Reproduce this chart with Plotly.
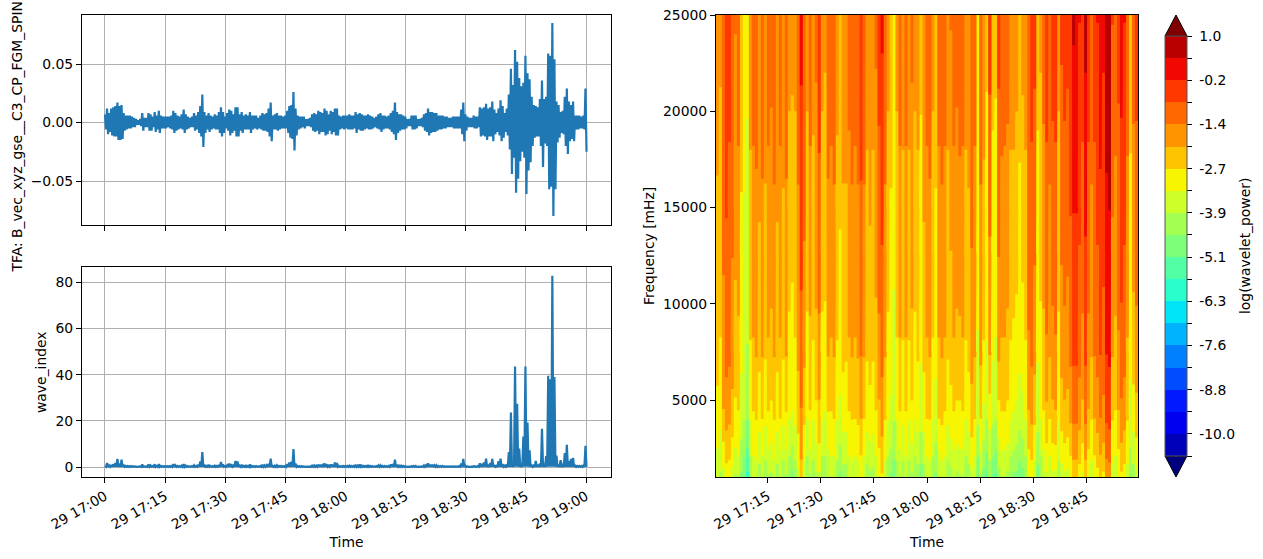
import pandas as pd
import plotly.graph_objects as go

# Magnetic field waveform envelope (upper and lower excursion per sample), nT
b_upper = [
    .007, .012, .008, .012, .013, .014, .017, .014, .015, .008,
    .006, .006, .006, .005, .004, .003, .002, .003, .008, .004,
    .004, .008, .007, .005, .009, .006, .010, .006, .005, .005,
    .005, .005, .006, .010, .008, .006, .005, .007, .011, .007,
    .005, .004, .005, .008, .006, .009, .014, .024, .009, .006,
    .008, .006, .005, .007, .006, .009, .013, .009, .005, .008,
    .011, .010, .007, .013, .013, .007, .009, .006, .007, .006,
    .009, .006, .006, .006, .004, .006, .008, .007, .008, .012,
    .017, .006, .007, .008, .006, .006, .005, .006, .010, .014,
    .015, .026, .012, .006, .005, .005, .005, .003, .003, .004,
    .007, .008, .007, .010, .009, .008, .012, .010, .007, .010,
    .009, .012, .012, .006, .005, .006, .006, .006, .007, .006,
    .006, .009, .007, .008, .007, .006, .006, .007, .006, .005,
    .004, .005, .007, .008, .006, .006, .005, .006, .008, .010,
    .017, .009, .007, .007, .006, .005, .003, .003, .006, .006,
    .006, .003, .003, .004, .007, .008, .012, .009, .009, .008,
    .008, .006, .006, .006, .005, .005, .004, .004, .005, .005,
    .005, .005, .011, .017, .007, .005, .004, .004, .006, .005,
    .005, .013, .012, .013, .016, .012, .013, .018, .011, .008,
    .012, .019, .014, .008, .012, .024, .046, .032, .062, .052,
    .038, .031, .034, .057, .042, .037, .022, .015, .014, .013,
    .020, .036, .020, .022, .059, .057, .085, .054, .018, .015,
    .009, .010, .022, .029, .018, .015, .018, .006, .006, .006,
    .005, .006, .029,
]
b_lower = [
    -.006, -.010, -.008, -.011, -.012, -.012, -.015, -.015, -.014, -.007,
    -.006, -.005, -.005, -.004, -.004, -.002, -.002, -.003, -.007, -.004,
    -.004, -.007, -.007, -.004, -.008, -.006, -.009, -.005, -.005, -.005,
    -.004, -.005, -.006, -.009, -.007, -.006, -.005, -.006, -.009, -.006,
    -.005, -.004, -.004, -.007, -.006, -.009, -.012, -.021, -.009, -.006,
    -.008, -.006, -.005, -.006, -.006, -.009, -.012, -.009, -.005, -.007,
    -.011, -.009, -.007, -.012, -.012, -.007, -.009, -.006, -.006, -.006,
    -.009, -.006, -.005, -.006, -.005, -.006, -.007, -.007, -.008, -.012,
    -.016, -.006, -.006, -.007, -.006, -.005, -.005, -.005, -.009, -.013,
    -.014, -.024, -.011, -.006, -.005, -.004, -.005, -.003, -.003, -.004,
    -.007, -.008, -.007, -.010, -.008, -.008, -.011, -.010, -.007, -.010,
    -.008, -.011, -.011, -.006, -.005, -.006, -.005, -.006, -.006, -.006,
    -.005, -.009, -.006, -.007, -.007, -.006, -.005, -.006, -.006, -.005,
    -.004, -.005, -.006, -.008, -.006, -.005, -.005, -.006, -.008, -.010,
    -.015, -.009, -.007, -.006, -.006, -.005, -.003, -.003, -.006, -.006,
    -.005, -.003, -.003, -.004, -.007, -.008, -.011, -.009, -.008, -.008,
    -.007, -.006, -.006, -.005, -.005, -.004, -.004, -.004, -.005, -.005,
    -.005, -.005, -.010, -.016, -.007, -.004, -.004, -.004, -.005, -.005,
    -.004, -.012, -.011, -.012, -.015, -.012, -.012, -.016, -.010, -.008,
    -.011, -.016, -.013, -.008, -.011, -.023, -.044, -.030, -.060, -.048,
    -.033, -.025, -.030, -.061, -.041, -.034, -.020, -.013, -.012, -.012,
    -.020, -.038, -.018, -.020, -.057, -.055, -.080, -.057, -.017, -.013,
    -.009, -.010, -.020, -.027, -.016, -.014, -.016, -.006, -.006, -.005,
    -.005, -.006, -.025,
]

# Wave index on the same time base as the envelope; it drops back to the floor between samples
wave_floor = 0.1
wave_index = [
    .5, 1.7, .7, .9, 1.2, 1.8, 3.5, 1.5, 3.2, 1.0,
    .5, .5, .4, .4, .3, .2, .2, .3, 1.1, .3,
    .3, 1.1, .7, .4, 1.2, .5, 1.3, .5, .4, .4,
    .4, .4, .5, 1.3, .8, .5, .4, .6, 1.3, .6,
    .4, .3, .4, .8, .5, 1.0, 2.4, 6.5, 1.0, .5,
    1.0, .5, .4, .6, .5, .9, 2.2, 1.2, .4, .8,
    1.5, 1.2, .6, 2.6, 2.4, .6, 1.0, .5, .6, .5,
    1.1, .5, .4, .4, .3, .5, 1.0, .7, .8, 1.4,
    3.6, .5, .6, .8, .5, .5, .4, .5, 1.3, 2.0,
    2.3, 7.8, 1.5, .5, .4, .4, .3, .2, .2, .3,
    .6, .7, .6, 1.0, 1.0, .8, 1.6, 1.2, .6, 1.1,
    1.0, 2.0, 1.7, .5, .4, .5, .5, .5, .6, .5,
    .5, 1.0, .6, 1.1, .6, .5, .5, .6, .5, .4,
    .3, .4, .7, .8, .5, .5, .4, .5, 1.1, 1.3,
    3.2, 1.0, .6, .6, .5, .4, .2, .2, .4, .5,
    .5, .2, .2, .3, .7, .8, 1.6, 1.0, 1.0, .8,
    .8, .5, .4, .5, .3, .3, .3, .3, .3, .3,
    .3, .4, 1.5, 3.5, .6, .3, .2, .2, .4, .3,
    .4, 1.6, 1.4, 2.0, 3.6, .6, 1.8, 3.5, .9, .5,
    2.5, 3.6, 1.2, .6, 1.2, 6.5, 23.6, 1.0, 43.5, 27.4,
    8.0, .8, 13.2, 43.5, 19.3, 7.2, 1.0, .6, 2.7, 1.0,
    1.5, 16.6, 1.5, 4.8, 39.5, 38.0, 82.8, 39.0, 5.0, 1.0,
    3.0, .8, 6.0, 9.6, 2.5, 3.5, 4.0, .6, .5, .5,
    .5, .6, 9.2,
]

# Wavelet spectrum: log power per time column, one list per frequency row, lowest row first
frequencies = [400, 2000, 4200, 7500, 15000, 25000]
power_row_a = [
    -4.0, -4.2, -3.8, -3.4, -3.5, -3.9, -4.3, -4.2, -4.9, -5.2,
    -6.2, -4.8, -4.2, -4.1, -4.6, -4.2, -4.6, -4.3, -4.3, -4.1,
    -4.6, -4.2, -4.6, -4.3, -4.9, -5.1, -4.7, -3.8, -2.9, -4.0,
    -4.7, -4.3, -4.6, -4.3, -3.7, -4.8, -4.8, -4.2, -4.2, -4.2,
    -4.6, -5.0, -4.5, -4.6, -4.2, -4.0, -4.2, -4.0, -3.5, -4.2,
    -4.6, -4.4, -4.5, -4.2, -3.6, -3.0, -4.1, -4.8, -5.0, -5.4,
    -4.6, -4.2, -4.6, -4.2, -4.7, -4.3, -4.8, -4.6, -5.3, -4.5,
    -4.1, -4.0, -4.8, -4.9, -4.2, -4.1, -4.2, -4.6, -4.5, -4.2,
    -4.4, -4.3, -4.2, -4.8, -4.6, -3.8, -4.1, -5.3, -4.3, -5.1,
    -5.5, -4.8, -5.4, -5.6, -4.5, -4.2, -4.2, -4.4, -4.8, -5.0,
    -5.0, -5.2, -5.1, -4.8, -3.6, -3.4, -4.1, -5.1, -4.7, -4.2,
    -3.7, -4.2, -3.8, -3.8, -4.6, -4.0, -3.7, -3.8, -3.4, -2.8,
    -2.9, -3.3, -3.7, -2.8, -3.6, -4.1, -3.5, -3.2, -2.9, -3.1,
    -2.3, -2.2, -3.9, -4.2, -3.6, -3.1, -3.3, -4.0, -4.9, -4.6, -3.8,
]
power_row_b = [
    -3.4, -3.6, -3.0, -2.5, -2.6, -3.0, -3.4, -3.3, -4.1, -4.5,
    -5.3, -3.9, -3.3, -3.2, -3.7, -3.3, -3.8, -3.4, -3.5, -3.2,
    -3.7, -3.4, -3.8, -3.4, -3.9, -4.1, -3.8, -3.0, -2.0, -3.2,
    -3.9, -3.4, -3.8, -3.5, -2.9, -3.9, -3.9, -3.4, -3.3, -3.3,
    -3.8, -4.1, -3.7, -3.7, -3.3, -3.2, -3.3, -3.2, -2.7, -3.3,
    -3.7, -3.5, -3.6, -3.3, -2.8, -2.3, -3.2, -3.9, -4.0, -4.4,
    -3.8, -3.4, -3.8, -3.3, -3.8, -3.5, -3.9, -3.7, -4.3, -3.7,
    -3.3, -3.2, -3.9, -4.1, -3.4, -3.2, -3.3, -3.8, -3.6, -3.4,
    -3.5, -3.4, -3.4, -3.9, -3.7, -3.0, -3.3, -4.5, -3.4, -4.2,
    -4.6, -3.8, -4.5, -4.6, -3.6, -3.4, -3.4, -3.5, -3.9, -4.0,
    -4.1, -4.4, -4.2, -3.9, -2.8, -2.6, -3.2, -4.3, -3.9, -3.4,
    -2.9, -3.3, -2.9, -2.9, -3.8, -3.1, -2.9, -3.0, -2.7, -2.0,
    -2.0, -2.5, -2.9, -2.0, -2.8, -3.2, -2.7, -2.4, -2.1, -2.3,
    -1.4, -1.3, -3.1, -3.3, -2.8, -2.3, -2.5, -3.1, -4.0, -3.7, -3.0,
]
power_row_c = [
    -2.8, -3.1, -2.1, -1.8, -1.9, -2.3, -2.8, -2.7, -3.6, -3.8,
    -4.4, -3.2, -2.7, -2.6, -3.0, -2.6, -3.1, -2.7, -2.8, -2.6,
    -3.0, -2.6, -3.1, -2.7, -3.2, -3.3, -3.1, -2.4, -1.5, -2.5,
    -3.2, -2.7, -3.2, -2.8, -2.2, -3.2, -3.3, -2.7, -2.7, -2.6,
    -3.2, -3.4, -3.0, -3.0, -2.7, -2.6, -2.6, -2.5, -2.0, -2.6,
    -3.0, -2.9, -3.0, -2.7, -2.2, -1.8, -2.6, -3.2, -3.4, -3.8,
    -3.2, -2.7, -3.1, -2.7, -3.2, -2.8, -3.2, -3.0, -3.6, -3.0,
    -2.6, -2.6, -3.2, -3.5, -2.6, -2.5, -2.7, -3.1, -2.9, -2.7,
    -2.8, -2.8, -2.7, -3.2, -3.0, -2.3, -2.6, -3.7, -2.6, -3.4,
    -3.8, -3.0, -3.7, -3.8, -2.9, -2.7, -2.7, -2.8, -3.2, -3.3,
    -3.4, -3.6, -3.5, -3.2, -2.1, -1.9, -2.5, -3.6, -3.2, -2.7,
    -2.2, -2.6, -2.2, -2.1, -3.2, -2.4, -2.2, -2.3, -1.9, -1.3,
    -1.3, -1.8, -2.2, -1.3, -2.1, -2.6, -2.0, -1.8, -1.4, -1.6,
    -.7, -.6, -2.6, -2.7, -2.1, -1.6, -1.8, -2.6, -3.5, -3.0, -2.3,
]
power_row_d = [
    -2.5, -2.7, -1.6, -1.2, -1.3, -1.7, -2.3, -2.2, -3.1, -3.5,
    -3.9, -2.7, -2.1, -2.0, -2.5, -2.0, -2.6, -2.1, -2.2, -2.0,
    -2.5, -2.1, -2.6, -2.0, -2.8, -2.9, -2.7, -1.9, -1.0, -1.9,
    -2.8, -2.2, -2.7, -2.2, -1.6, -2.8, -2.8, -2.0, -2.1, -2.0,
    -2.7, -3.0, -2.5, -2.6, -2.1, -2.0, -2.1, -2.0, -1.4, -2.0,
    -2.6, -2.4, -2.6, -2.2, -1.6, -1.2, -2.0, -2.8, -3.0, -3.4,
    -2.7, -2.1, -2.7, -2.1, -2.7, -2.2, -2.8, -2.6, -3.2, -2.5,
    -2.1, -2.0, -2.7, -3.1, -2.1, -2.0, -2.1, -2.6, -2.4, -2.1,
    -2.2, -2.2, -2.1, -2.7, -2.5, -1.8, -2.0, -3.3, -1.9, -2.7,
    -3.3, -2.0, -3.2, -3.3, -1.9, -2.1, -2.1, -2.2, -2.7, -2.8,
    -2.9, -3.1, -2.9, -2.7, -1.5, -1.3, -1.8, -3.2, -2.8, -2.2,
    -1.5, -2.0, -1.6, -1.5, -2.8, -1.8, -1.6, -1.7, -1.3, -.7,
    -.7, -1.2, -1.6, -.7, -1.6, -2.0, -1.4, -1.2, -.8, -1.1,
    -.2, -.1, -2.0, -2.2, -1.5, -1.0, -1.2, -2.1, -3.1, -2.3, -1.6,
]
power_row_e = [
    -2.1, -2.3, -1.3, -.8, -1.0, -1.3, -1.8, -1.6, -2.7, -3.3,
    -3.5, -2.2, -1.6, -1.5, -2.0, -1.5, -2.1, -1.6, -1.7, -1.5,
    -2.0, -1.6, -2.1, -1.5, -2.3, -2.4, -2.3, -1.5, -.6, -1.3,
    -2.3, -1.6, -2.2, -1.7, -1.0, -2.3, -2.4, -1.5, -1.6, -1.5,
    -2.2, -2.6, -2.1, -2.1, -1.6, -1.5, -1.6, -1.5, -.9, -1.5,
    -2.2, -2.0, -2.2, -1.8, -1.0, -.7, -1.5, -2.3, -2.7, -3.1,
    -2.3, -1.6, -2.2, -1.6, -2.2, -1.7, -2.3, -2.2, -2.9, -2.0,
    -1.6, -1.5, -2.3, -2.7, -1.6, -1.5, -1.6, -2.2, -1.9, -1.6,
    -1.7, -1.6, -1.6, -2.2, -2.1, -1.3, -1.6, -3.1, -1.5, -2.2,
    -2.9, -1.3, -2.9, -3.0, -1.2, -1.6, -1.6, -1.7, -2.2, -2.2,
    -2.3, -2.8, -2.4, -2.2, -1.1, -1.0, -1.2, -2.9, -2.4, -1.7,
    -1.0, -1.5, -1.1, -1.0, -2.3, -1.2, -1.1, -1.2, -.8, -.2,
    -.2, -.7, -1.0, -.1, -1.0, -1.5, -1.0, -.7, -.3, -.5,
    .3, .4, -1.4, -1.6, -1.1, -.5, -.7, -1.6, -2.8, -1.7, -1.1,
]
power_row_f = [
    -1.8, -1.9, -1.1, -.5, -.5, -1.1, -1.4, -1.1, -2.2, -2.9,
    -3.0, -1.7, -1.1, -1.2, -1.7, -1.1, -1.7, -1.1, -1.2, -1.0,
    -1.6, -1.1, -1.6, -1.1, -1.8, -1.8, -1.8, -1.0, .0, -1.0,
    -1.8, -1.1, -1.8, -1.3, -.4, -1.8, -1.9, -1.1, -1.1, -1.0,
    -1.8, -2.1, -1.7, -1.7, -1.2, -1.0, -1.1, -1.0, -.4, -1.0,
    -1.7, -1.6, -1.7, -1.3, -.6, -.1, -1.0, -1.8, -2.3, -2.9,
    -1.8, -1.1, -1.7, -1.1, -1.7, -1.3, -1.8, -1.7, -2.4, -1.7,
    -1.1, -1.1, -1.8, -2.3, -1.1, -1.0, -1.1, -1.7, -1.4, -1.1,
    -1.2, -1.0, -1.1, -1.7, -1.6, -1.1, -1.1, -2.9, -1.0, -1.6,
    -2.5, -.5, -2.3, -2.4, -.6, -1.0, -1.1, -1.1, -1.7, -1.7,
    -1.8, -2.2, -1.8, -1.7, -.9, -.5, -.6, -2.3, -1.9, -1.1,
    -.5, -1.0, -.5, -.5, -1.8, -.7, -.5, -.6, -.3, .5,
    .2, -.2, -.5, .6, -.5, -1.0, -.5, -.2, .1, -.1,
    .8, .8, -.8, -1.0, -.6, .1, -.2, -1.0, -2.3, -1.1, -.5,
]
power_rows = [power_row_a, power_row_b, power_row_c, power_row_d, power_row_e, power_row_f]

# Contour levels and their discrete colours, lowest band first
level_start, level_end, level_step = -10.59, 1.0, 0.61
level_values = [-10.59, -9.98, -9.37, -8.76, -8.15, -7.54, -6.93, -6.32, -5.71, -5.10,
                -4.49, -3.88, -3.27, -2.66, -2.05, -1.44, -.83, -.22, .39, 1.0]
level_labels = ["", "-10.0", "", "-8.8", "", "-7.6", "", "-6.3", "", "-5.1",
                "", "-3.9", "", "-2.7", "", "-1.4", "", "-0.2", "", "1.0"]
band_colors = ["#0000b9", "#0000f1", "#0019ff", "#004cff", "#0080ff", "#00b3ff", "#00e5f8",
               "#29ffcd", "#53ffa4", "#7dff7a", "#a4ff53", "#cdff29", "#f8f500", "#ffc400",
               "#ff9400", "#ff6800", "#ff3800", "#f10800", "#b90000"]

BLUE = "#1f77b4"
GRID = "#b0b0b0"
FONT = dict(family="DejaVu Sans", size=13.9, color="black")
W, H = 1263, 559


def px(x):
    return x / W


def py(y):
    return 1 - y / H


def side_label(text, x, y):
    """Rotated label placed beside a panel."""
    return dict(text=text, textangle=-90, showarrow=False, xref="paper", yref="paper",
                x=px(x), y=py(y), xanchor="center", yanchor="middle", font=FONT)


# Time base of the line panels
half_times = pd.date_range("2002-03-29 17:00:00", periods=2 * len(b_upper), freq="15500ms")
b_trace = [v for pair in zip(b_upper, b_lower) for v in pair]
wave_trace = [v for w in wave_index for v in (w, wave_floor)]

# Each spectrum column is held flat over its own width so its edges stay sharp
edges = pd.date_range("2002-03-29 17:00:18", "2002-03-29 18:59:42", periods=len(power_row_f) + 1)
gap = pd.Timedelta(seconds=1)
column_x = [t for a, b in zip(edges[:-1], edges[1:]) for t in (a, b - gap)]
column_z = [[v for v in row for _ in range(2)] for row in power_rows]

colorscale = []
for k, color in enumerate(band_colors):
    colorscale.append([k / len(band_colors), color])
    colorscale.append([(k + 1) / len(band_colors), color])

fig = go.Figure()
fig.add_trace(go.Scatter(x=half_times, y=b_trace, mode="lines", xaxis="x", yaxis="y",
                         line=dict(color=BLUE, width=2.2), showlegend=False))
fig.add_trace(go.Scatter(x=half_times, y=wave_trace, mode="lines", xaxis="x2", yaxis="y2",
                         line=dict(color=BLUE, width=2.2), showlegend=False))
fig.add_trace(go.Contour(
    x=column_x, y=frequencies, z=column_z, xaxis="x3", yaxis="y3",
    autocontour=False,
    contours=dict(start=level_start, end=level_end, size=level_step,
                  coloring="fill", showlines=False),
    line=dict(width=0, smoothing=0),
    zmin=level_start, zmax=level_end, colorscale=colorscale,
    colorbar=dict(
        x=px(1165), xanchor="left", xpad=0,
        y=py(246), yanchor="middle", ypad=0,
        lenmode="pixels", len=420, thicknessmode="pixels", thickness=22,
        outlinecolor="#555555", outlinewidth=1,
        tickmode="array", tickvals=level_values,
        ticktext=["\u00a0" + label if label else label for label in level_labels],
        ticks="outside", ticklen=5, tickwidth=1, tickcolor="black", tickfont=FONT,
    ),
))

time_axis = dict(
    type="date", tickformat="%d %H:%M", tickangle=-30, dtick=900000,
    tick0="2002-03-29 17:00:00", ticks="outside", ticklen=5, tickwidth=1, tickcolor="black",
    showline=True, linecolor="black", linewidth=1, mirror=True,
    tickfont=FONT, zeroline=False, automargin=False,
)
value_axis = dict(
    ticks="outside", ticklen=5, tickwidth=1, tickcolor="black",
    showline=True, linecolor="black", linewidth=1, mirror=True,
    tickfont=FONT, zeroline=False, automargin=False,
)
left_span = ["2002-03-29 16:54:16", "2002-03-29 19:06:14"]

fig.update_layout(
    width=W, height=H, autosize=False,
    margin=dict(l=0, r=0, t=0, b=0, autoexpand=False),
    paper_bgcolor="white", plot_bgcolor="white",
    font=FONT, showlegend=False,
    xaxis=dict(time_axis, domain=[px(82), px(611)], range=left_span, anchor="y",
               matches="x2", showticklabels=False, showgrid=True, gridcolor=GRID, gridwidth=1),
    yaxis=dict(value_axis, domain=[py(225), py(15)], range=[-.0876, .0919], anchor="x",
               tickvals=[-.05, 0, .05], tickformat=".2f",
               showgrid=True, gridcolor=GRID, gridwidth=1),
    xaxis2=dict(time_axis, domain=[px(82), px(611)], range=left_span, anchor="y2",
                showgrid=True, gridcolor=GRID, gridwidth=1,
                title=dict(text="Time", font=FONT, standoff=5)),
    yaxis2=dict(value_axis, domain=[py(477), py(267)], range=[-4.3, 86.6], anchor="x2",
                tickvals=[0, 20, 40, 60, 80], showgrid=True, gridcolor=GRID, gridwidth=1),
    xaxis3=dict(time_axis, domain=[px(716), px(1138)],
                range=["2002-03-29 17:00:18", "2002-03-29 18:59:42"], anchor="y3",
                showgrid=False, title=dict(text="Time", font=FONT, standoff=5)),
    yaxis3=dict(value_axis, domain=[py(477), py(15)], range=[1000, 25000], anchor="x3",
                tickvals=[5000, 10000, 15000, 20000, 25000], tickformat="d", showgrid=False),
    annotations=[
        side_label("TFA: B_vec_xyz_gse__C3_CP_FGM_SPIN", 16, 137.5),
        side_label("wave_index", 41, 372),
        side_label("Frequency [mHz]", 649, 246),
        side_label("log(wavelet_power)", 1245, 246),
    ],
    shapes=[
        # Out-of-range arrows on the colour bar
        dict(type="path", xref="paper", yref="paper", fillcolor="#7f0000",
             line=dict(color="black", width=1),
             path=f"M {px(1165)} {py(36)} L {px(1176)} {py(15)} L {px(1187)} {py(36)} Z"),
        dict(type="path", xref="paper", yref="paper", fillcolor="#00007f",
             line=dict(color="black", width=1),
             path=f"M {px(1165)} {py(456)} L {px(1176)} {py(477)} L {px(1187)} {py(456)} Z"),
    ],
)

fig.write_html("out.html")
